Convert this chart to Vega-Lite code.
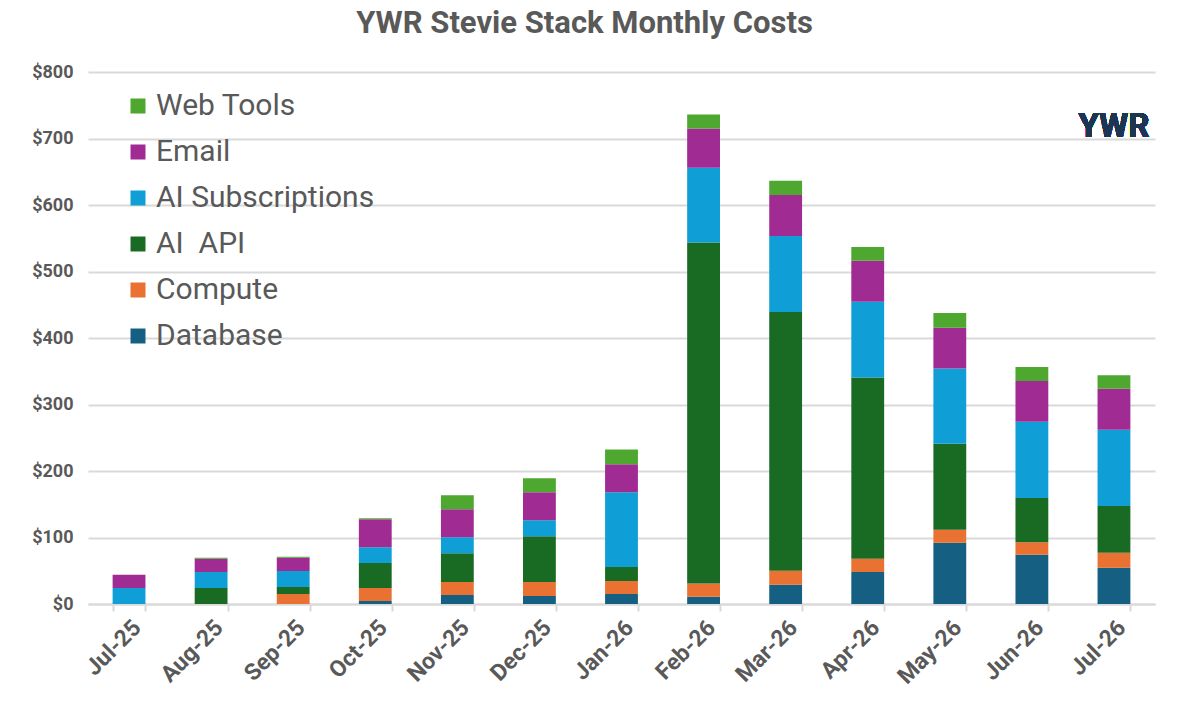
{
  "$schema": "https://vega.github.io/schema/vega-lite/v6.json",
  "autosize": "none",
  "padding": {"left": 88, "top": 72, "right": 23, "bottom": 118},
  "width": 1067,
  "height": 532,
  "background": "white",
  "title": {
    "text": "YWR Stevie Stack Monthly Costs",
    "anchor": "middle",
    "dx": -37,
    "offset": 23,
    "font": "Roboto",
    "fontSize": 31,
    "fontWeight": "bold",
    "color": "#595959"
  },
  "config": {
    "view": {"stroke": null},
    "font": "Roboto"
  },
  "data": {
    "values": [
      {"month": "Jul-25", "series": "AI Subscriptions", "cost": 24},
      {"month": "Jul-25", "series": "Email", "cost": 20},
      {"month": "Aug-25", "series": "AI  API", "cost": 24},
      {"month": "Aug-25", "series": "AI Subscriptions", "cost": 24},
      {"month": "Aug-25", "series": "Email", "cost": 20},
      {"month": "Aug-25", "series": "Web Tools", "cost": 1.5},
      {"month": "Sep-25", "series": "Compute", "cost": 15},
      {"month": "Sep-25", "series": "AI  API", "cost": 10.5},
      {"month": "Sep-25", "series": "AI Subscriptions", "cost": 24},
      {"month": "Sep-25", "series": "Email", "cost": 20},
      {"month": "Sep-25", "series": "Web Tools", "cost": 1.5},
      {"month": "Oct-25", "series": "Database", "cost": 4.5},
      {"month": "Oct-25", "series": "Compute", "cost": 19.5},
      {"month": "Oct-25", "series": "AI  API", "cost": 37.5},
      {"month": "Oct-25", "series": "AI Subscriptions", "cost": 24},
      {"month": "Oct-25", "series": "Email", "cost": 42},
      {"month": "Oct-25", "series": "Web Tools", "cost": 1.5},
      {"month": "Nov-25", "series": "Database", "cost": 13.5},
      {"month": "Nov-25", "series": "Compute", "cost": 19.5},
      {"month": "Nov-25", "series": "AI  API", "cost": 43.5},
      {"month": "Nov-25", "series": "AI Subscriptions", "cost": 24},
      {"month": "Nov-25", "series": "Email", "cost": 42},
      {"month": "Nov-25", "series": "Web Tools", "cost": 21},
      {"month": "Dec-25", "series": "Database", "cost": 12},
      {"month": "Dec-25", "series": "Compute", "cost": 21},
      {"month": "Dec-25", "series": "AI  API", "cost": 69},
      {"month": "Dec-25", "series": "AI Subscriptions", "cost": 24},
      {"month": "Dec-25", "series": "Email", "cost": 42},
      {"month": "Dec-25", "series": "Web Tools", "cost": 21},
      {"month": "Jan-26", "series": "Database", "cost": 15},
      {"month": "Jan-26", "series": "Compute", "cost": 19.5},
      {"month": "Jan-26", "series": "AI  API", "cost": 21},
      {"month": "Jan-26", "series": "AI Subscriptions", "cost": 112.5},
      {"month": "Jan-26", "series": "Email", "cost": 42},
      {"month": "Jan-26", "series": "Web Tools", "cost": 22.5},
      {"month": "Feb-26", "series": "Database", "cost": 11},
      {"month": "Feb-26", "series": "Compute", "cost": 20},
      {"month": "Feb-26", "series": "AI  API", "cost": 512.5},
      {"month": "Feb-26", "series": "AI Subscriptions", "cost": 112.5},
      {"month": "Feb-26", "series": "Email", "cost": 59},
      {"month": "Feb-26", "series": "Web Tools", "cost": 21},
      {"month": "Mar-26", "series": "Database", "cost": 29},
      {"month": "Mar-26", "series": "Compute", "cost": 21},
      {"month": "Mar-26", "series": "AI  API", "cost": 389},
      {"month": "Mar-26", "series": "AI Subscriptions", "cost": 114.5},
      {"month": "Mar-26", "series": "Email", "cost": 61.5},
      {"month": "Mar-26", "series": "Web Tools", "cost": 21.5},
      {"month": "Apr-26", "series": "Database", "cost": 48},
      {"month": "Apr-26", "series": "Compute", "cost": 20},
      {"month": "Apr-26", "series": "AI  API", "cost": 272.5},
      {"month": "Apr-26", "series": "AI Subscriptions", "cost": 114},
      {"month": "Apr-26", "series": "Email", "cost": 61.5},
      {"month": "Apr-26", "series": "Web Tools", "cost": 21},
      {"month": "May-26", "series": "Database", "cost": 92},
      {"month": "May-26", "series": "Compute", "cost": 19.5},
      {"month": "May-26", "series": "AI  API", "cost": 129.5},
      {"month": "May-26", "series": "AI Subscriptions", "cost": 113},
      {"month": "May-26", "series": "Email", "cost": 61.5},
      {"month": "May-26", "series": "Web Tools", "cost": 22},
      {"month": "Jun-26", "series": "Database", "cost": 74},
      {"month": "Jun-26", "series": "Compute", "cost": 19},
      {"month": "Jun-26", "series": "AI  API", "cost": 66.5},
      {"month": "Jun-26", "series": "AI Subscriptions", "cost": 114.5},
      {"month": "Jun-26", "series": "Email", "cost": 61.5},
      {"month": "Jun-26", "series": "Web Tools", "cost": 21},
      {"month": "Jul-26", "series": "Database", "cost": 54.5},
      {"month": "Jul-26", "series": "Compute", "cost": 22.5},
      {"month": "Jul-26", "series": "AI  API", "cost": 70.5},
      {"month": "Jul-26", "series": "AI Subscriptions", "cost": 114.5},
      {"month": "Jul-26", "series": "Email", "cost": 61.5},
      {"month": "Jul-26", "series": "Web Tools", "cost": 20.5}
    ]
  },
  "layer": [
    {
      "transform": [
        {"calculate": "indexof(['Database', 'Compute', 'AI  API', 'AI Subscriptions', 'Email', 'Web Tools'], datum.series)", "as": "stack_rank"}
      ],
      "mark": {"type": "bar"},
      "encoding": {
        "x": {
          "field": "month",
          "type": "ordinal",
          "sort": null,
          "scale": {"paddingInner": 0.6, "paddingOuter": 0.3},
          "axis": {
            "title": null,
            "labelAngle": -45,
            "labelFontSize": 23,
            "labelFontWeight": "bold",
            "labelColor": "#595959",
            "labelPadding": 5,
            "domainColor": "#d9d9d9",
            "domainWidth": 2,
            "tickColor": "#d9d9d9",
            "tickWidth": 2,
            "tickSize": 7,
            "tickBand": "extent"
          }
        },
        "y": {
          "field": "cost",
          "type": "quantitative",
          "aggregate": "sum",
          "stack": "zero",
          "scale": {"domain": [0, 800]},
          "axis": {
            "title": null,
            "values": [0, 100, 200, 300, 400, 500, 600, 700, 800],
            "format": "$,.0f",
            "labelFontSize": 18,
            "labelFontWeight": "bold",
            "labelColor": "#595959",
            "labelPadding": 15,
            "domain": false,
            "ticks": false,
            "gridColor": "#d9d9d9",
            "gridWidth": 2
          }
        },
        "order": {"field": "stack_rank", "type": "quantitative", "sort": "ascending"},
        "color": {
          "field": "series",
          "type": "nominal",
          "scale": {
            "domain": ["Web Tools", "Email", "AI Subscriptions", "AI  API", "Compute", "Database"],
            "range": ["#4ea72e", "#a02b93", "#0f9ed5", "#196b24", "#e97132", "#156082"]
          },
          "legend": {
            "title": null,
            "orient": "none",
            "legendX": 35,
            "legendY": 19,
            "symbolType": "square",
            "symbolSize": 225,
            "symbolStrokeWidth": 0,
            "symbolOpacity": 1,
            "labelFontSize": 30,
            "labelColor": "#595959",
            "labelOffset": 3,
            "rowPadding": 16,
            "labelLimit": 400,
            "labelExpr": "datum.label == 'AI  API' ? 'AI\u00a0\u00a0API' : datum.label"
          }
        }
      }
    },
    {
      "mark": {
        "type": "text",
        "text": "YWR",
        "font": "Roboto",
        "fontSize": 33,
        "fontWeight": "bold",
        "color": "#1c3553",
        "baseline": "middle"
      },
      "encoding": {
        "x": {"datum": "Jul-26", "type": "ordinal"},
        "y": {"datum": 718, "type": "quantitative"}
      }
    }
  ]
}
